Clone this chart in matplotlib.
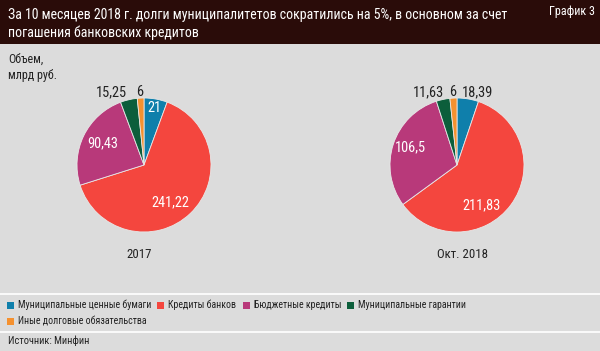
import matplotlib
matplotlib.use("Agg")
import matplotlib.pyplot as plt
from matplotlib.patches import Rectangle
from matplotlib import font_manager as fm

# узкий шрифт, если есть
names = {f.name for f in fm.fontManager.ttflist}
family = 'Roboto'
stretch = 'normal'
for cand in ['Roboto Condensed', 'Liberation Sans Narrow', 'Open Sans Condensed', 'Noto Sans Condensed']:
    if cand in names:
        family = cand
        break
else:
    for f in fm.fontManager.ttflist:
        if f.name in ('Roboto', 'Noto Sans', 'DejaVu Sans', 'Open Sans') and f.stretch in ('condensed', 'semi-condensed', 500, 300):
            family, stretch = f.name, f.stretch
            break
plt.rcParams['font.family'] = [family, 'DejaVu Sans']
plt.rcParams['font.stretch'] = stretch

# данные
categories = ['Муниципальные ценные бумаги', 'Кредиты банков', 'Бюджетные кредиты',
              'Муниципальные гарантии', 'Иные долговые обязательства']
colors = ['#0f7fab', '#f4463e', '#b8397a', '#0c5e3b', '#f5912f']
vals_2017 = [21, 241.22, 90.43, 15.25, 6]
vals_2018 = [18.39, 211.83, 106.5, 11.63, 6]
labels_2017 = ['21', '241,22', '90,43', '15,25', '6']
labels_2018 = ['18,39', '211,83', '106,5', '11,63', '6']
titles = ['2017', 'Окт. 2018']

W, H = 600, 351
fig = plt.figure(figsize=(6, 3.51), dpi=100)
fig.patch.set_facecolor('#dcdcdc')
dark = '#222222'

def px(x, y):  # пиксели -> доли фигуры
    return x / W, 1 - y / H

to_fit = []  # (текст, ширина в px, другие тексты того же размера)

# шапка
fig.patches.append(Rectangle((0, 1 - 44 / H), 1, 44 / H, transform=fig.transFigure,
                             facecolor='#2a0c09', edgecolor='none', zorder=0))
t1 = fig.text(*px(8, 15), 'За 10 месяцев 2018 г. долги муниципалитетов сократились на 5%, в основном за счет',
              color='white', fontsize=12, va='center', ha='left')
t2 = fig.text(*px(8, 33), 'погашения банковских кредитов', color='white', fontsize=12, va='center', ha='left')
to_fit.append((t1, 500, [t2]))
tg = fig.text(*px(595, 11), 'График 3', color='white', fontsize=9, va='center', ha='right')
to_fit.append((tg, 46, []))

o1 = fig.text(*px(8, 59), 'Объем,', fontsize=9, color=dark, va='center')
o2 = fig.text(*px(8, 76), 'млрд руб.', fontsize=9, color=dark, va='center')
to_fit.append((o2, 49, [o1]))

# белые разделители
for y in (294, 332):
    fig.add_artist(plt.Line2D([0, 1], [1 - y / H] * 2, color='white', lw=1.2, transform=fig.transFigure))

# позиции подписей (в единицах радиуса)
pos_2017 = [(0.16, 0.85), (0.40, -0.56), (-0.62, 0.33), (-0.48, 1.09), (-0.07, 1.09)]
pos_2018 = [(0.30, 1.09), (0.37, -0.60), (-0.70, 0.27), (-0.43, 1.09), (-0.07, 1.09)]
inside = [True, True, True, False, False]
pie_texts = []
year_texts = []

def draw_pie(cx, cy, vals, labels, pos, title, tx, blue_inside):
    r = 67
    ax = fig.add_axes([(cx - r) / W, 1 - (cy + r) / H, 2 * r / W, 2 * r / H])
    ax.pie(vals, colors=colors, startangle=90, counterclock=False,
           wedgeprops=dict(edgecolor='#e8e8e8', linewidth=0.6))
    ax.set_xlim(-1, 1)
    ax.set_ylim(-1, 1)
    ax.set_aspect('equal')
    ax.axis('off')
    for i, (lab, (x, y)) in enumerate(zip(labels, pos)):
        white = inside[i] and (i != 0 or blue_inside)
        pie_texts.append(ax.text(x, y, lab, ha='center', va='center', fontsize=10,
                                 color='white' if white else dark, clip_on=False))
    year_texts.append(fig.text(*px(tx, 255), title, ha='center', va='center', fontsize=10, color=dark))

draw_pie(144, 165, vals_2017, labels_2017, pos_2017, titles[0], 139, True)
draw_pie(457, 165, vals_2018, labels_2018, pos_2018, titles[1], 463, False)
to_fit.append((pie_texts[1], 38, pie_texts[:1] + pie_texts[2:]))
to_fit.append((year_texts[1], 51, year_texts[:1]))

# легенда
leg_rows = [[(7, 0), (157, 1), (243, 2), (347, 3)], [(7, 4)]]
leg_texts = []
for row, y in zip(leg_rows, (305, 321)):
    for x, i in row:
        fig.patches.append(Rectangle((x / W, 1 - (y + 3.5) / H), 7 / W, 7 / H,
                                     transform=fig.transFigure, facecolor=colors[i], edgecolor='none'))
        leg_texts.append(fig.text(*px(x + 11, y), categories[i], fontsize=9, color=dark, va='center'))
to_fit.append((leg_texts[0], 133, leg_texts[1:]))

src = fig.text(*px(8, 341), 'Источник: Минфин', fontsize=9, color=dark, va='center')
to_fit.append((src, 82, []))

# подогнать размеры шрифтов под ширину в оригинале
fig.canvas.draw()
rend = fig.canvas.get_renderer()
for t, w, others in to_fit:
    k = w / t.get_window_extent(rend).width
    for o in [t] + others:
        o.set_fontsize(o.get_fontsize() * k)

fig.savefig('out.png', dpi=100, facecolor=fig.get_facecolor())
